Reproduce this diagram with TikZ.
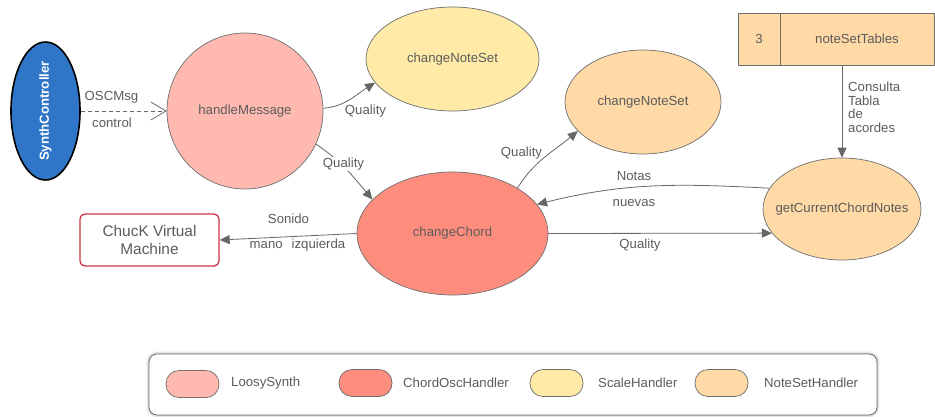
\documentclass[tikz,border=0pt]{standalone}
\usepackage{fontspec}
\setmainfont{Liberation Sans}
\usetikzlibrary{shapes.geometric,arrows.meta,shadows.blur}

\definecolor{txt}{HTML}{5C5C5C}
\definecolor{edge}{HTML}{6E6E6E}
\definecolor{wire}{HTML}{666666}
\definecolor{loosy}{HTML}{FFB9B0}
\definecolor{chordosc}{HTML}{FF8D7E}
\definecolor{scale}{HTML}{FFEAA7}
\definecolor{noteset}{HTML}{FFD9A6}
\definecolor{ctrlblue}{HTML}{2F75C8}
\definecolor{vmred}{HTML}{CC3341}

\begin{document}
\begin{tikzpicture}[x=1pt,y=-1pt,
  font=\fontsize{13.2}{15}\selectfont, text=txt,
  proc/.style={ellipse, draw=edge, line width=0.7pt, inner sep=0pt},
  link/.style={draw=wire, line width=0.8pt, -{Triangle[length=10pt,width=9pt]}},
  lbl/.style={inner sep=1pt},
  swatch/.style={draw=edge, line width=0.7pt, rounded corners=13pt,
    minimum width=53pt, minimum height=27pt, inner sep=0pt},
  legtext/.style={anchor=west, inner sep=0pt},
]
\useasboundingbox (0,0) rectangle (935,416);

% --- processes ---
\node[ellipse, draw=black, line width=1.6pt, fill=ctrlblue, inner sep=0pt,
      minimum width=69pt, minimum height=138pt] (ctrl) at (45.5,111)
      {\rotatebox{90}{\makebox[0pt]{\color{white}\bfseries SynthController}}};
\node[circle, draw=edge, line width=0.7pt, fill=loosy, inner sep=0pt,
      minimum size=156pt] (hm) at (245,111) {\makebox[0pt]{handleMessage}};
\node[proc, fill=scale, minimum width=173pt, minimum height=104pt]
      (cnsA) at (452.5,59) {\makebox[0pt]{changeNoteSet}};
\node[proc, fill=noteset, minimum width=156pt, minimum height=104pt]
      (cnsB) at (643,102) {\makebox[0pt]{changeNoteSet}};
\node[proc, fill=chordosc, minimum width=191pt, minimum height=123pt]
      (cc) at (452.5,233.5) {\makebox[0pt]{changeChord}};
\node[proc, fill=noteset, minimum width=158pt, minimum height=102pt]
      (gccn) at (842,209) {\makebox[0pt]{getCurrentChordNotes}};

% --- data store ---
\node[draw=edge, line width=0.7pt, fill=noteset, minimum width=42pt,
      minimum height=52pt, inner sep=0pt] (num) at (759,39) {3};
\node[draw=edge, line width=0.7pt, fill=noteset, minimum width=154pt,
      minimum height=52pt, inner sep=0pt] (nst) at (857,39) {noteSetTables};

% --- external entity ---
\node[draw=vmred, line width=1.3pt, rounded corners=5pt, fill=white,
      minimum width=139pt, minimum height=52pt, align=center,
      font=\fontsize{15.4}{18}\selectfont] (vm) at (149.5,240)
      {ChucK Virtual\\Machine};

% --- flows ---
\draw[draw=wire, line width=0.8pt, dash pattern=on 4pt off 3pt,
      -{Straight Barb[length=15pt,width=18pt,line width=0.8pt]}]
      (ctrl.east) -- (hm.west);
\node[lbl] (l1) at (111.5,97) {OSCMsg};
\node[lbl] (l2) at (112,123) {control};

\draw[link] (hm.2) to[out=5,in=212] (cnsA.197);
\node[lbl] (l3) at (365.5,111) {Quality};

\draw[link] (hm.-25) to[out=-34,in=130] (cc.157);
\node[lbl, fill=white] (l4) at (343.5,164) {Quality};

\draw[link] (cc.35) to[out=58,in=220] (cnsB.204);
\node[lbl] (l5) at (521.5,153) {Quality};

\draw[link] (gccn.164) to[out=177,in=14] (cc.19);
\node[lbl] (l6) at (634,176) {Notas};
\node[lbl] (l7) at (634,203) {nuevas};

\draw[link] (cc.east) -- (gccn.199);
\node[lbl] (l8) at (640,245) {Quality};

\draw[link] (cc.west) -- (vm.east);
\node[lbl] (l9) at (288.5,219) {Sonido};
\node[lbl] (l10) at (297.5,245) {mano\hspace{9pt}izquierda};

\draw[link] (gccn.north |- nst.south) -- (gccn.north);
\node[lbl, anchor=north west, align=left,
      font=\fontsize{13.2}{13.6}\selectfont] (l11) at (847,81)
      {Consulta\\Tabla\\de\\acordes};

% --- legend ---
\node[draw=edge, line width=0.8pt, rounded corners=8pt, fill=white,
      minimum width=728pt, minimum height=61pt, inner sep=0pt,
      blur shadow={shadow xshift=0pt, shadow yshift=0pt,
                   shadow blur radius=3pt, shadow opacity=45}]
      (legend) at (513,384.5) {};
\node[swatch, fill=loosy]    (s1) at (192.5,384) {};
\node[legtext] (t1) at (231,383) {LoosySynth};
\node[swatch, fill=chordosc] (s2) at (365.5,383) {};
\node[legtext] (t2) at (403,383) {ChordOscHandler};
\node[swatch, fill=scale]    (s3) at (556.5,383) {};
\node[legtext] (t3) at (598,383) {ScaleHandler};
\node[swatch, fill=noteset]  (s4) at (721.5,383) {};
\node[legtext] (t4) at (764,383) {NoteSetHandler};
\end{tikzpicture}
\end{document}
